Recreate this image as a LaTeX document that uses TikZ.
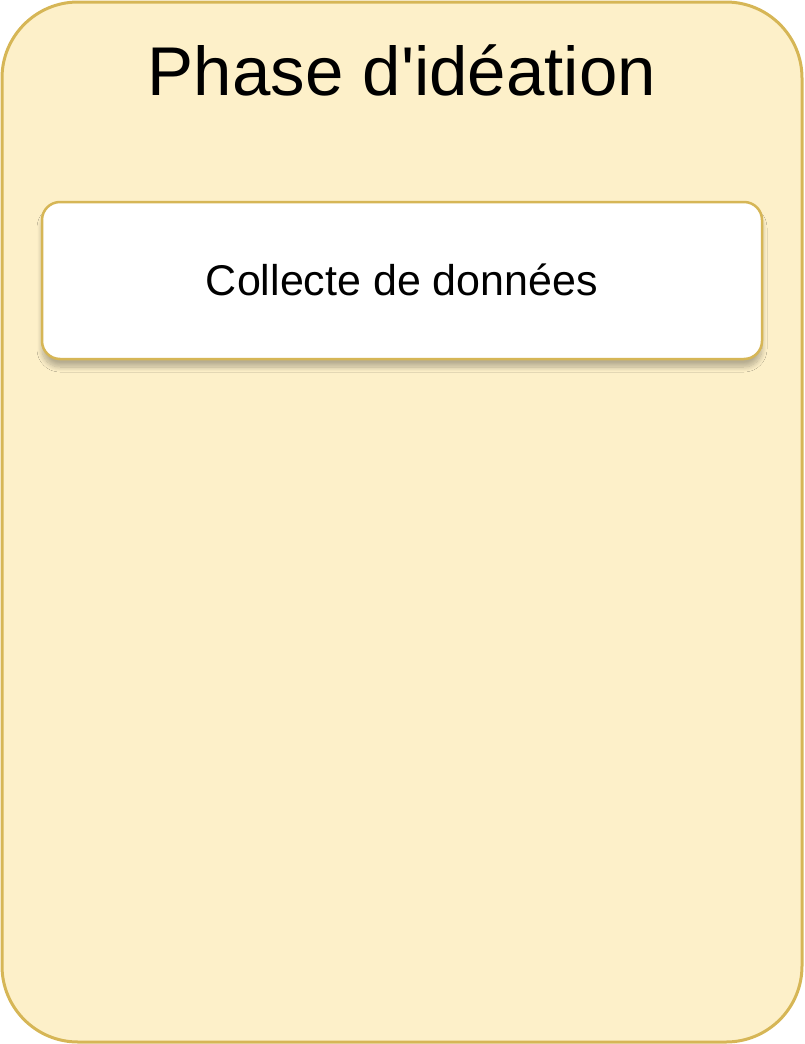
\documentclass[tikz,border=0pt]{standalone}
\usepackage{fontspec}
\setmainfont{Liberation Sans}
\usetikzlibrary{shadows.blur}
\definecolor{phasefill}{HTML}{FDF0C9}
\definecolor{phaseline}{HTML}{D6B656}
\tikzset{
    phasebox/.style={draw=phaseline, fill=phasefill, line width=3pt, rounded corners=76pt},
    taskbox/.style={draw=phaseline, fill=white, line width=2.5pt, rounded corners=18pt,
        blur shadow={shadow xshift=0pt, shadow yshift=-8pt, shadow blur radius=5pt, shadow blur steps=12, shadow opacity=28}}
}
\begin{document}
\begin{tikzpicture}[x=1pt, y=-1pt]
        % 1. Canvas
        \useasboundingbox (0,0) rectangle (804,1044);

        % 2. Phase container
        \draw[phasebox] (2,2) rectangle (802,1042);
        \node[anchor=base, font=\fontsize{69}{80}\selectfont] (title) at (402,95) {Phase d\textquotesingle idéation};

        % 3. Task
        \draw[taskbox] (42,202) rectangle (762,359);
        \node[anchor=base, font=\fontsize{43}{50}\selectfont] (collecte) at (402,295) {Collecte de données};
    \end{tikzpicture}
\end{document}
